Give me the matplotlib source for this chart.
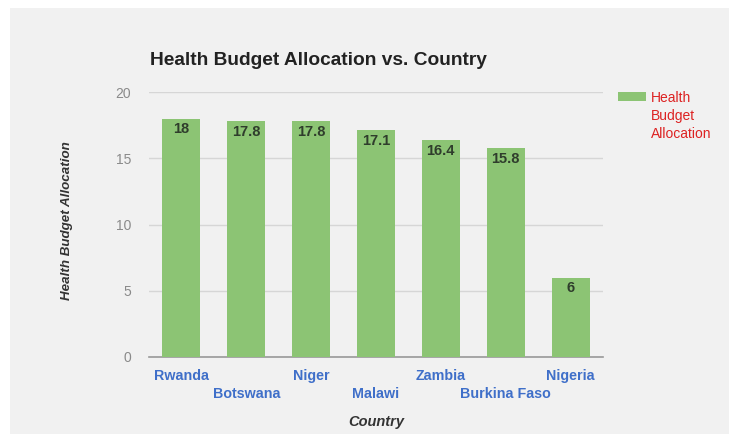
import matplotlib.pyplot as plt
from matplotlib.patches import Rectangle

plt.rcParams["font.family"] = ["Liberation Sans", "DejaVu Sans"]

countries = ["Rwanda", "Botswana", "Niger", "Malawi", "Zambia", "Burkina Faso", "Nigeria"]
allocation = [18, 17.8, 17.8, 17.1, 16.4, 15.8, 6]
y_ticks = [0, 5, 10, 15, 20]

BG = "#f1f1f1"
BAR = "#8cc474"

fig = plt.figure(figsize=(7.29, 4.34), dpi=100)
fig.patch.set_facecolor("white")
# grey panel behind the chart
fig.add_artist(Rectangle((10 / 729, 0), 1, 1 - 8 / 434, transform=fig.transFigure,
                         facecolor=BG, edgecolor="none", zorder=-10))

ax = fig.add_axes([149 / 729, 1 - 357 / 434, 454 / 729, 265 / 434])
ax.set_facecolor(BG)

x = range(len(countries))
ax.bar(x, allocation, width=0.585, color=BAR, zorder=3)
for xi, v in zip(x, allocation):
    ax.text(xi, v - 0.3, f"{v:g}", ha="center", va="top", fontsize=10.5,
            fontweight="bold", color="#2f3d2c", zorder=4)

ax.set_xlim(-0.5, len(countries) - 0.5)
ax.set_ylim(0, 20)
ax.set_yticks(y_ticks)
ax.set_yticklabels([str(t) for t in y_ticks], color="#8a8a8a", fontsize=10)
ax.yaxis.grid(True, color="#d6d6d6", linewidth=1, zorder=0)
ax.tick_params(axis="y", length=0, pad=13)
ax.tick_params(axis="x", length=0)
ax.set_xticks([])
for s in ["top", "right", "left"]:
    ax.spines[s].set_visible(False)
ax.spines["bottom"].set_color("#999999")
ax.spines["bottom"].set_linewidth(1.2)

# staggered category labels
for xi, name in zip(x, countries):
    off = -0.045 if xi % 2 == 0 else -0.115
    ax.text(xi, off, name, transform=ax.get_xaxis_transform(), ha="center", va="top",
            fontsize=10.3, fontweight="bold", color="#3f6fc9")

ax.set_xlabel("Country", fontsize=10.5, fontweight="bold", style="italic",
              color="#333333", labelpad=42)
ax.set_ylabel("Health Budget Allocation", fontsize=9.6, fontweight="bold",
              style="italic", color="#333333")
ax.yaxis.set_label_coords(-0.168, 0.513)

fig.text(150 / 729, 1 - 60 / 434, "Health Budget Allocation vs. Country",
         fontsize=13.8, fontweight="bold", color="#222222", va="center", ha="left")

# legend
fig.add_artist(Rectangle((618 / 729, 1 - 101 / 434), 28 / 729, 9 / 434,
                         transform=fig.transFigure, facecolor=BAR, edgecolor="none"))
fig.text(651 / 729, 1 - 91 / 434, "Health\nBudget\nAllocation", fontsize=10,
         color="#dd2222", va="top", ha="left", linespacing=1.35)

fig.savefig("out.png", dpi=100, facecolor=fig.get_facecolor())
